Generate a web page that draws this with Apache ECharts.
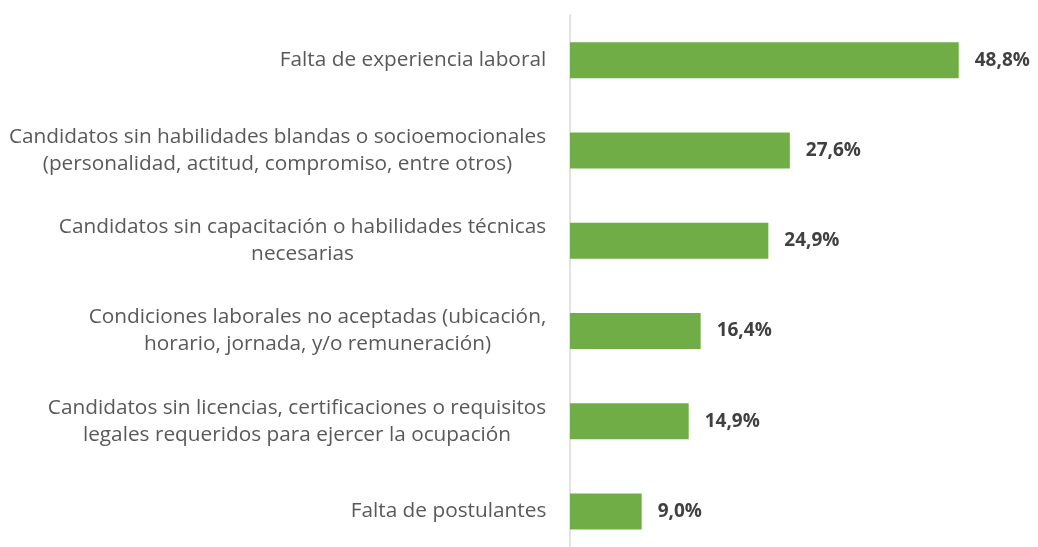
<!DOCTYPE html>
<html>
<head>
<meta charset="utf-8">
<script src="https://cdn.jsdelivr.net/npm/echarts@6/dist/echarts.min.js"></script>
<style>
  html, body { margin: 0; padding: 0; background: #fff; }
  #chart { width: 1038px; height: 547px; }
</style>
</head>
<body>
<div id="chart"></div>
<script>
// categories listed top to bottom
const categorias = [
  "Falta de experiencia laboral",
  "Candidatos sin habilidades blandas o socioemocionales\n(personalidad, actitud, compromiso, entre otros)",
  "Candidatos sin capacitación o habilidades técnicas\nnecesarias",
  "Condiciones laborales no aceptadas (ubicación,\nhorario, jornada, y/o remuneración)",
  "Candidatos sin licencias, certificaciones o requisitos\nlegales requeridos para ejercer la ocupación",
  "Falta de postulantes"
]
const porcentajes = [48.8, 27.6, 24.9, 16.4, 14.9, 9.0]

const labelFont = "20.8px 'Open Sans'"
// multi-line labels are centred line by line inside a right-aligned block
const ctx = document.createElement("canvas").getContext("2d")
ctx.font = labelFont
let rich = {}
categorias.forEach((c, i) => {
  let w = Math.max(...c.split("\n").map((l) => ctx.measureText(l).width))
  rich["r" + i] = {
    width: Math.ceil(w) + 1,
    align: "center",
    color: "#595959",
    fontFamily: "Open Sans",
    fontSize: 20.8,
    lineHeight: 27,
  }
})

let myChart = echarts.init(document.getElementById("chart"))
myChart.setOption({
  animation: false,
  textStyle: { fontFamily: "Open Sans" },
  grid: {
    left: 570,
    width: 398.3,
    top: 15,
    height: 541.6,
    containLabel: false,
    outerBoundsMode: "none",
  },
  xAxis: {
    type: "value",
    min: 0,
    max: 50,
    show: false,
  },
  yAxis: {
    type: "category",
    inverse: true,
    data: categorias,
    axisLine: { show: true, lineStyle: { color: "#d9d9d9", width: 1.5 } },
    axisTick: { show: false },
    axisLabel: {
      color: "#595959",
      fontSize: 20.8,
      margin: 23,
      lineHeight: 27,
      align: "right",
      formatter: (v, i) => v.split("\n").map((l) => "{r" + i + "|" + l + "}").join("\n"),
      rich: rich,
    },
  },
  series: [
    {
      type: "bar",
      data: porcentajes,
      barWidth: 36,
      itemStyle: { color: "#70ad47" },
      label: {
        show: true,
        position: "right",
        distance: 16,
        color: "#404040",
        fontWeight: "bold",
        fontSize: 19,
        formatter: (p) => p.value.toFixed(1).replace(".", ",") + "%",
      },
    },
  ],
})
</script>
</body>
</html>
